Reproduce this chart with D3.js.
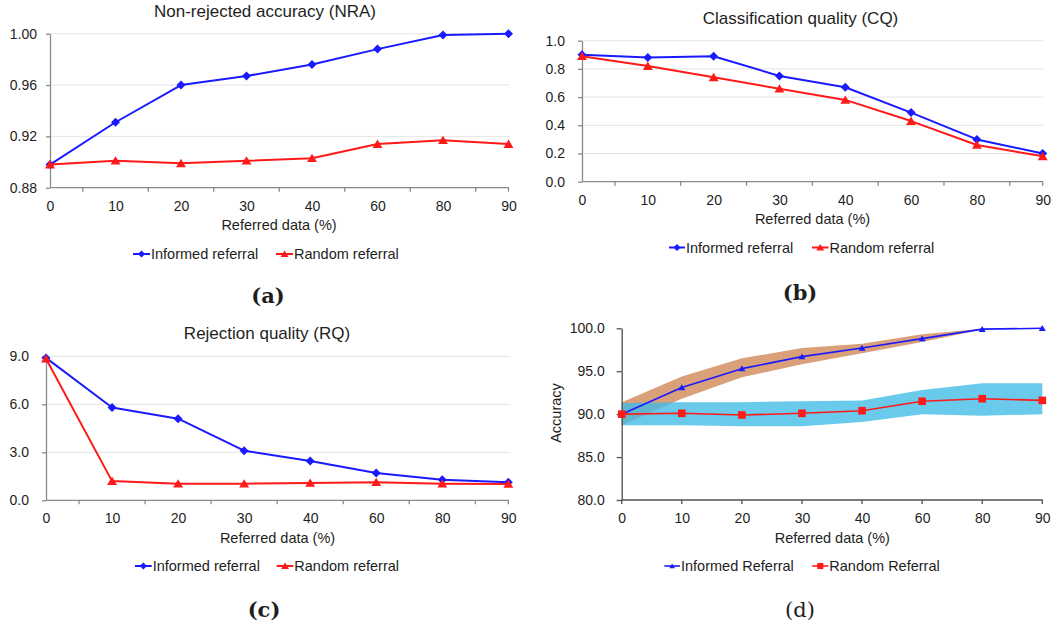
<!DOCTYPE html>
<html>
<head>
<meta charset="utf-8">
<script src="https://cdn.jsdelivr.net/npm/d3@7"></script>
<style>
  body { margin: 0; background: #fff; }
  svg { display: block; }
  text { font-family: "Liberation Sans", Arial, sans-serif; fill: #1e1e1e; }
  .cap { font-family: "DejaVu Serif", "Liberation Serif", serif; }
</style>
</head>
<body>
<svg id="fig" width="1061" height="627"></svg>
<script>
// Referred share of the data (%) – shared category axis of all four panels
const referred = ["0", "10", "20", "30", "40", "60", "80", "90"];

// (a) Non-rejected accuracy
const nraInformed = [0.898, 0.931, 0.960, 0.967, 0.976, 0.988, 0.999, 1.000];
const nraRandom   = [0.898, 0.901, 0.899, 0.901, 0.903, 0.914, 0.917, 0.914];
const nraTicks    = [0.88, 0.92, 0.96, 1.00];

// (b) Classification quality
const cqInformed = [0.90, 0.88, 0.89, 0.75, 0.67, 0.49, 0.30, 0.20];
const cqRandom   = [0.89, 0.82, 0.74, 0.66, 0.58, 0.43, 0.26, 0.18];
const cqTicks    = [0.0, 0.2, 0.4, 0.6, 0.8, 1.0];

// (c) Rejection quality
const rqInformed = [8.90, 5.80, 5.10, 3.10, 2.46, 1.71, 1.29, 1.13];
const rqRandom   = [8.85, 1.20, 1.04, 1.04, 1.08, 1.13, 1.04, 1.02];
const rqTicks    = [0.0, 3.0, 6.0, 9.0];

// (d) Accuracy with spread bands
const accInformed     = [90.0, 93.1, 95.3, 96.7, 97.7, 98.8, 99.9, 100.0];
const accInformedHigh = [91.4, 94.4, 96.5, 97.7, 98.2, 99.3, 99.95];
const accInformedLow  = [88.7, 91.8, 94.3, 95.8, 97.1, 98.4, 99.85];
const accRandom       = [90.0, 90.1, 89.9, 90.1, 90.4, 91.5, 91.8, 91.6];
const accRandomHigh   = [91.3, 91.4, 91.4, 91.5, 91.6, 92.8, 93.6, 93.6];
const accRandomLow    = [88.7, 88.7, 88.6, 88.6, 89.1, 90.0, 89.8, 90.0];
const accTicks        = [80, 85, 90, 95, 100];

const BLUE = "#1a1aff", RED = "#ff1a1a";
const svg = d3.select("#fig");

// Marker shapes centred on the data point
const markers = {
  diamond: r => `M0,${-r}L${r},0L0,${r}L${-r},0Z`,
  triangle: r => `M0,${-r}L${r * 1.1},${r * 0.85}L${-r * 1.1},${r * 0.85}Z`,
  square: r => `M${-r},${-r}H${r}V${r}H${-r}Z`
};

function drawMarker(g, type, r, color, cx, cy) {
  g.append("path")
    .attr("d", markers[type](r))
    .attr("transform", `translate(${cx},${cy})`)
    .attr("fill", color);
}

function panel(cfg) {
  const g = svg.append("g");
  const x = d3.scalePoint().domain(referred).range([cfg.x0, cfg.x1]);
  const y = d3.scaleLinear().domain(cfg.yDomain).range([cfg.yBottom, cfg.yTop]);

  // horizontal gridlines
  if (cfg.grid) {
    g.append("g").selectAll("line")
      .data(cfg.ticks.filter(t => t !== cfg.yDomain[0]))
      .join("line")
      .attr("x1", cfg.x0).attr("x2", cfg.x1 + 1)
      .attr("y1", d => y(d)).attr("y2", d => y(d))
      .attr("stroke", "#e4e4e4").attr("stroke-width", 1);
  }

  // spread bands
  (cfg.bands || []).forEach(b => {
    const area = d3.area()
      .x((d, i) => x(referred[i]))
      .y0((d, i) => y(b.low[i]))
      .y1(d => y(d));
    g.append("path").datum(b.high)
      .attr("d", area)
      .attr("fill", b.color)
      .attr("fill-opacity", b.opacity);
  });

  // y axis
  const yAxis = d3.axisLeft(y)
    .tickValues(cfg.ticks)
    .tickFormat(cfg.fmt)
    .tickSizeInner(cfg.yTick)
    .tickSizeOuter(0)
    .tickPadding(cfg.yPad);
  const ya = g.append("g").attr("transform", `translate(${cfg.x0},0)`).call(yAxis);
  ya.select(".domain").attr("stroke", cfg.axisColor).attr("stroke-width", 1.3);
  ya.selectAll(".tick line").attr("stroke", cfg.axisColor).attr("stroke-width", 1.3);
  ya.selectAll(".tick text").attr("font-size", 14).attr("fill", "#1e1e1e")
    .attr("font-family", "Liberation Sans, Arial, sans-serif");

  // x axis: labels at each category
  const xAxis = d3.axisBottom(x).tickSizeInner(0).tickSizeOuter(0).tickPadding(13);
  const xa = g.append("g").attr("transform", `translate(0,${cfg.yBottom})`).call(xAxis);
  xa.select(".domain").attr("stroke", cfg.axisColor).attr("stroke-width", 1.3)
    .attr("d", `M${cfg.x0},0H${cfg.x1 + 0.5}`);
  xa.selectAll(".tick text").attr("font-size", 14).attr("fill", "#1e1e1e")
    .attr("font-family", "Liberation Sans, Arial, sans-serif");

  // x tick marks: between categories, or on them
  const half = x.step() / 2;
  const tickXs = cfg.xTicksOn
    ? referred.map(c => x(c))
    : referred.slice(0, -1).map(c => x(c) + half).concat([x(referred[referred.length - 1])]);
  g.append("g").selectAll("line").data(tickXs).join("line")
    .attr("x1", d => d).attr("x2", d => d)
    .attr("y1", cfg.yBottom).attr("y2", cfg.yBottom + 4)
    .attr("stroke", cfg.axisColor).attr("stroke-width", 1.3);

  // series lines and markers
  cfg.series.forEach(s => {
    const line = d3.line().x((d, i) => x(referred[i])).y(d => y(d));
    g.append("path").datum(s.values)
      .attr("d", line).attr("fill", "none")
      .attr("stroke", s.color).attr("stroke-width", cfg.lineWidth)
      .attr("stroke-linejoin", "round");
    s.values.forEach((v, i) => drawMarker(g, s.marker, s.r, s.color, x(referred[i]), y(v)));
  });

  // title
  if (cfg.title) {
    g.append("text").attr("x", cfg.title[1]).attr("y", cfg.title[2])
      .attr("text-anchor", "middle").attr("font-size", 17).attr("fill", "#111")
      .text(cfg.title[0]);
  }

  // y axis title
  if (cfg.yLabel) {
    g.append("text")
      .attr("transform", `translate(${cfg.yLabel[1]},${cfg.yLabel[2]}) rotate(-90)`)
      .attr("text-anchor", "middle").attr("font-size", 14.5)
      .text(cfg.yLabel[0]);
  }

  // x axis title
  g.append("text").attr("x", cfg.xLabel[0]).attr("y", cfg.xLabel[1])
    .attr("text-anchor", "middle").attr("font-size", 14.5)
    .text("Referred data (%)");

  // legend
  cfg.legend.forEach((item, k) => {
    const s = cfg.series[k];
    const [lx1, lx2] = item.span;
    const ly = cfg.legendY - 5;
    g.append("line").attr("x1", lx1).attr("x2", lx2).attr("y1", ly).attr("y2", ly)
      .attr("stroke", s.color).attr("stroke-width", cfg.lineWidth);
    drawMarker(g, s.marker, s.r * 0.8, s.color, (lx1 + lx2) / 2, ly);
    g.append("text").attr("x", lx2 + 1).attr("y", cfg.legendY)
      .attr("font-size", 14.5).text(item.label);
  });

  // panel caption
  g.append("text").attr("class", "cap")
    .attr("x", cfg.caption[1]).attr("y", cfg.caption[2])
    .attr("text-anchor", "middle").attr("font-size", 21)
    .attr("font-weight", cfg.caption[3] ? "bold" : "normal")
    .attr("fill", "#111")
    .text(cfg.caption[0]);
}

const fmt2 = d3.format(".2f"), fmt1 = d3.format(".1f");

panel({
  x0: 50, x1: 508.5, yTop: 33.7, yBottom: 187.7, yDomain: [0.88, 1.00],
  ticks: nraTicks, fmt: fmt2, grid: true, yTick: 4, yPad: 9, axisColor: "#8a8a8a",
  lineWidth: 2,
  series: [
    { values: nraInformed, color: BLUE, marker: "diamond", r: 4.5 },
    { values: nraRandom, color: RED, marker: "triangle", r: 4.5 }
  ],
  title: ["Non-rejected accuracy (NRA)", 265, 16.7],
  xLabel: [279, 229.5],
  legendY: 259,
  legend: [{ label: "Informed referral", span: [133, 150] },
           { label: "Random referral", span: [276, 293] }],
  caption: ["(a)", 268, 303, true]
});

panel({
  x0: 582, x1: 1042.7, yTop: 40.7, yBottom: 181.7, yDomain: [0, 1],
  ticks: cqTicks, fmt: fmt1, grid: true, yTick: 4, yPad: 13, axisColor: "#8a8a8a",
  lineWidth: 2,
  series: [
    { values: cqInformed, color: BLUE, marker: "diamond", r: 4.5 },
    { values: cqRandom, color: RED, marker: "triangle", r: 4.5 }
  ],
  title: ["Classification quality (CQ)", 800.5, 24],
  xLabel: [812.5, 223.5],
  legendY: 252.5,
  legend: [{ label: "Informed referral", span: [669, 685] },
           { label: "Random referral", span: [812, 828.5] }],
  caption: ["(b)", 800, 300, true]
});

panel({
  x0: 46, x1: 508.3, yTop: 356.3, yBottom: 500.3, yDomain: [0, 9],
  ticks: rqTicks, fmt: fmt1, grid: true, yTick: 4, yPad: 13, axisColor: "#8a8a8a",
  lineWidth: 2,
  series: [
    { values: rqInformed, color: BLUE, marker: "diamond", r: 4.5 },
    { values: rqRandom, color: RED, marker: "triangle", r: 4.5 }
  ],
  title: ["Rejection quality (RQ)", 267, 339.3],
  xLabel: [277.5, 543],
  legendY: 571,
  legend: [{ label: "Informed referral", span: [135, 151.7] },
           { label: "Random referral", span: [276.7, 293.3] }],
  caption: ["(c)", 264, 617, true]
});

panel({
  x0: 621.7, x1: 1042.3, yTop: 328.3, yBottom: 500, yDomain: [80, 100],
  ticks: accTicks, fmt: fmt1, grid: false, yTick: 5, yPad: 12, axisColor: "#505050",
  lineWidth: 1.6, xTicksOn: true,
  bands: [
    { high: accInformedHigh, low: accInformedLow, color: "#d9a07a", opacity: 1 },
    { high: accRandomHigh, low: accRandomLow, color: "#3fbbe6", opacity: 0.78 }
  ],
  series: [
    { values: accInformed, color: BLUE, marker: "triangle", r: 3.2 },
    { values: accRandom, color: RED, marker: "square", r: 3.8 }
  ],
  yLabel: ["Accuracy", 561, 413],
  xLabel: [832.3, 543],
  legendY: 571,
  legend: [{ label: "Informed Referral", span: [664.3, 680] },
           { label: "Random Referral", span: [812.3, 828.3] }],
  caption: ["(d)", 800, 617, false]
});
</script>
</body>
</html>
